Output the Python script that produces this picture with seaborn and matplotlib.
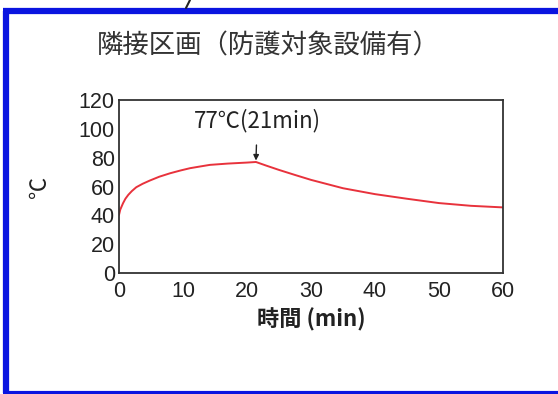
import matplotlib
matplotlib.use("Agg")
import matplotlib.pyplot as plt
import seaborn as sns
import pandas as pd
from matplotlib.lines import Line2D

time_min = [0, 0.2, 0.63, 1.0, 1.45, 2.0, 2.7, 3.7, 4.8, 6.3, 8, 9.6, 11.1, 12.7, 14.2, 17, 20, 21.4, 23, 25, 27.5, 30, 35, 40, 45, 50, 55, 60]
temp_c = [40.3, 44, 48.4, 51.5, 54.2, 56.8, 59.5, 61.9, 64.1, 66.8, 69.2, 71.1, 72.7, 73.9, 75, 75.9, 76.6, 77, 74.5, 71.5, 68, 64.6, 58.8, 54.7, 51.5, 48.5, 46.6, 45.5]

x_ticks = [0, 10, 20, 30, 40, 50, 60]
y_ticks = [0, 20, 40, 60, 80, 100, 120]
title_text = "隣接区画（防護対象設備有）"
xlabel_text = "時間 (min)"
ylabel_text = "℃"
peak_label = "77℃(21min)"
peak_time, peak_temp = 21.4, 77

df = pd.DataFrame({"time": time_min, "temp": temp_c})

sns.set_theme(style="white")
plt.rcParams["font.family"] = ["Noto Sans CJK JP", "DejaVu Sans"]

fig = plt.figure(figsize=(5.58, 3.94), dpi=100)
ax = fig.add_axes([119/558, (394-273)/394, (503-119)/558, (273-100)/394])

sns.lineplot(data=df, x="time", y="temp", ax=ax, color="#e8323c", linewidth=1.4)

ax.set_xlim(0, 60)
ax.set_ylim(0, 120)
ax.set_xticks(x_ticks)
ax.set_yticks(y_ticks)
ax.tick_params(axis="both", direction="in", length=7, width=1.2, colors="#222222",
               labelsize=15.5)
ax.tick_params(axis="y", pad=3)
ax.tick_params(axis="x", pad=6)
for lab in ax.get_xticklabels() + ax.get_yticklabels():
    lab.set_family(["Liberation Sans", "DejaVu Sans"])
for s in ax.spines.values():
    s.set_color("#333333")
    s.set_linewidth(1.3)

ax.set_xlabel(xlabel_text, fontsize=16, fontweight="bold", color="#222222", labelpad=4)
ax.set_ylabel(ylabel_text, fontsize=16, color="#222222", labelpad=20, rotation=90)

ax.annotate(peak_label, xy=(peak_time, peak_temp + 1), xytext=(21.6, 106),
            ha="center", va="center", fontsize=16, color="#222222",
            arrowprops=dict(arrowstyle="-|>", color="#222222", lw=1.0,
                            mutation_scale=8, shrinkA=7, shrinkB=0))

fig.text(268/558, 1 - 46/394, title_text, ha="center", va="center",
         fontsize=19, color="#333333")

# blue frame (left, top, bottom)
blue = "#0a14e0"
fig.add_artist(Line2D([5.5/558, 5.5/558], [1 - 10.5/394, 1 - 392.5/394], color=blue, lw=4.5,
                      transform=fig.transFigure, solid_capstyle="butt"))
fig.add_artist(Line2D([3/558, 1], [1 - 10.5/394, 1 - 10.5/394], color=blue, lw=4.5,
                      transform=fig.transFigure, solid_capstyle="butt"))
fig.add_artist(Line2D([3/558, 1], [1 - 392.5/394, 1 - 392.5/394], color=blue, lw=3,
                      transform=fig.transFigure, solid_capstyle="butt"))
# small stroke at top
fig.add_artist(Line2D([186/558, 190/558], [1 - 8/394, 1.0], color="#222222", lw=1.5,
                      transform=fig.transFigure))

fig.savefig("out.png", dpi=100)
